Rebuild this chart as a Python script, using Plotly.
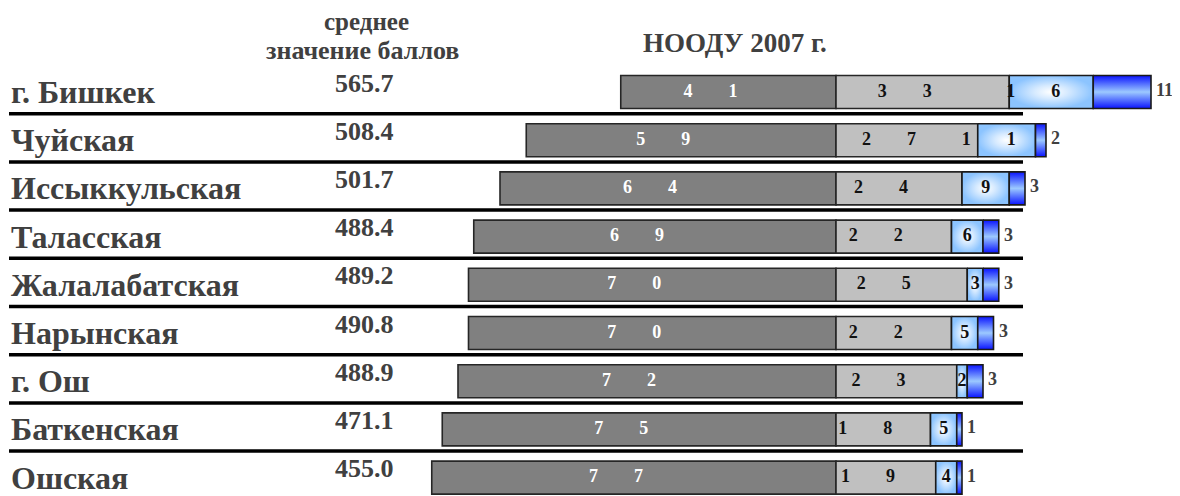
import plotly.graph_objects as go

# ---------------- data ----------------
regions = ["г. Бишкек", "Чуйская", "Иссыккульская", "Таласская", "Жалалабатская",
           "Нарынская", "г. Ош", "Баткенская", "Ошская"]
mean_scores = [565.7, 508.4, 501.7, 488.4, 489.2, 490.8, 488.9, 471.1, 455.0]
below_basic = [41, 59, 64, 69, 70, 70, 72, 75, 77]
basic = [33, 27, 24, 22, 25, 22, 23, 18, 19]
proficient = [16, 11, 9, 6, 3, 5, 2, 5, 4]
advanced = [11, 2, 3, 3, 3, 3, 3, 1, 1]

title_text = "НООДУ 2007 г."
mean_header = ["среднее", "значение баллов"]

# ---------------- layout constants ----------------
W, H = 1180, 496
PAGE = 8  # page body margin of the html page
FONT = "Liberation Serif"
TXT = "#404040"
PX_PER_UNIT = 5.25
ZERO_PX = 836 - PAGE
ROW0_PX = 92 - PAGE
ROW_PX = 48.2
HALF = 0.342

x_range = [-ZERO_PX / PX_PER_UNIT, (W - ZERO_PX) / PX_PER_UNIT]
y_range = [(H - ROW0_PX) / ROW_PX, -ROW0_PX / ROW_PX]

rows = list(range(len(regions)))


def px(x):
    return (x - PAGE) / W


def py(y):
    return 1 - (y - PAGE) / H


def spaced(v):
    s = str(v)
    if len(s) == 1:
        return s
    return "\u2003\u2003".join(s) + "\u2003\u2003"


fig = go.Figure()

# below basic (to the left)
fig.add_trace(go.Bar(
    y=rows, x=[-v for v in below_basic], base=0, orientation="h", width=2 * HALF,
    marker=dict(color="#808080", line=dict(color="#262626", width=1.6)),
    hoverinfo="skip"))
# basic
fig.add_trace(go.Bar(
    y=rows, x=basic, base=0, orientation="h", width=2 * HALF,
    marker=dict(color="#c0c0c0", line=dict(color="#262626", width=1.6)),
    hoverinfo="skip"))

# gradient segments: proficient (radial) and advanced (vertical)
for i in rows:
    x0 = basic[i]
    x1 = x0 + proficient[i]
    x2 = x1 + advanced[i]
    ys = [i - HALF, i - HALF, i + HALF, i + HALF, i - HALF]
    fig.add_trace(go.Scatter(
        x=[x0, x1, x1, x0, x0], y=ys, mode="lines", fill="toself",
        line=dict(color="#1a1a1a", width=1.6),
        fillgradient=dict(type="radial",
                          colorscale=[[0, "#ffffff"], [0.4, "#d6eaff"], [1, "#8cc4ff"]]),
        hoverinfo="skip"))
    fig.add_trace(go.Scatter(
        x=[x1, x2, x2, x1, x1], y=ys, mode="lines", fill="toself",
        line=dict(color="#1a1a1a", width=1.6),
        fillgradient=dict(type="vertical",
                          colorscale=[[0, "#0a14ff"], [0.5, "#9cc9ff"], [1, "#0a14ff"]]),
        hoverinfo="skip"))

# labels inside segments
fig.add_trace(go.Scatter(
    x=[-v / 2 for v in below_basic], y=rows, mode="text",
    text=[spaced(v) for v in below_basic], textposition="middle center",
    textfont=dict(family=FONT, size=18, color="#ffffff", weight="bold"),
    hoverinfo="skip"))
fig.add_trace(go.Scatter(
    x=[v / 2 for v in basic], y=rows, mode="text",
    text=[spaced(v) for v in basic], textposition="middle center",
    textfont=dict(family=FONT, size=18, color="#111111", weight="bold"),
    hoverinfo="skip"))
fig.add_trace(go.Scatter(
    x=[b + p / 2 for b, p in zip(basic, proficient)], y=rows, mode="text",
    text=[spaced(v) for v in proficient], textposition="middle center",
    textfont=dict(family=FONT, size=18, color="#111111", weight="bold"),
    hoverinfo="skip"))

annotations = []
for i in rows:
    annotations.append(dict(
        x=px(9), xref="paper", xanchor="left", y=i, yref="y", yanchor="middle",
        text=regions[i], showarrow=False,
        font=dict(family=FONT, size=32, color=TXT, weight="bold")))
    annotations.append(dict(
        x=px(364), xref="paper", xanchor="center", y=i, yref="y", yanchor="middle",
        yshift=9, text=f"{mean_scores[i]:.1f}", showarrow=False,
        font=dict(family=FONT, size=26, color=TXT, weight="bold")))
    annotations.append(dict(
        x=basic[i] + proficient[i] + advanced[i], xref="x", xanchor="left",
        xshift=3, y=i, yref="y", yanchor="middle", yshift=2,
        text=str(advanced[i]), showarrow=False,
        font=dict(family=FONT, size=18, color=TXT, weight="bold")))
annotations.append(dict(
    x=px(366), xref="paper", xanchor="center", y=py(22), yref="paper",
    yanchor="middle", text=mean_header[0], showarrow=False,
    font=dict(family=FONT, size=25, color=TXT, weight="bold")))
annotations.append(dict(
    x=px(363), xref="paper", xanchor="center", y=py(51), yref="paper",
    yanchor="middle", text=mean_header[1], showarrow=False,
    font=dict(family=FONT, size=26, color=TXT, weight="bold")))
annotations.append(dict(
    x=px(735), xref="paper", xanchor="center", y=py(43), yref="paper",
    yanchor="middle", text=title_text, showarrow=False,
    font=dict(family=FONT, size=27, color=TXT, weight="bold")))

shapes = []
for i in rows[:-1]:
    shapes.append(dict(type="line", xref="paper", yref="y",
                       x0=px(9), x1=px(1023), y0=i + 0.45, y1=i + 0.45,
                       line=dict(color="#000000", width=3.5), layer="below"))

fig.update_layout(
    width=W, height=H, margin=dict(l=0, r=0, t=0, b=0),
    paper_bgcolor="#ffffff", plot_bgcolor="#ffffff",
    showlegend=False, barmode="overlay",
    xaxis=dict(visible=False, range=x_range, fixedrange=True),
    yaxis=dict(visible=False, range=y_range, fixedrange=True),
    annotations=annotations, shapes=shapes,
)

fig.write_html("out.html")
